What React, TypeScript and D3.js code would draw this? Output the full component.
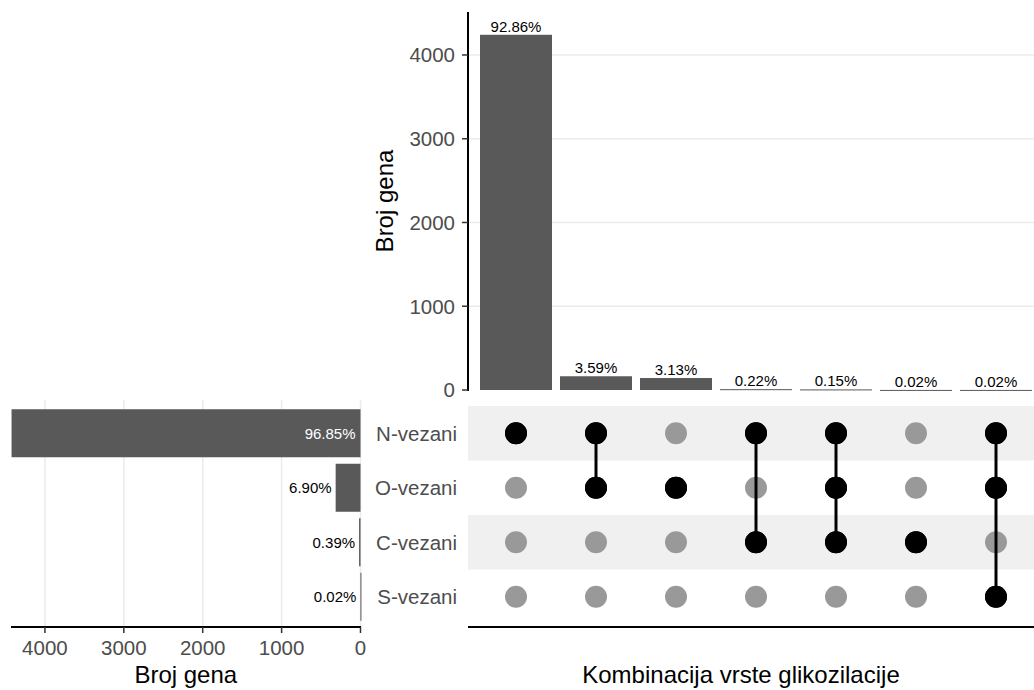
import React from 'react';
import * as d3 from 'd3';

// intersection sizes (genes) per combination, left to right
const combos = ['N', 'N&O', 'O', 'N&C', 'N&O&C', 'C', 'N&O&S'];
const comboCounts = [4241, 164, 143, 10, 7, 1, 1];
const comboPct = ['92.86%', '3.59%', '3.13%', '0.22%', '0.15%', '0.02%', '0.02%'];

// set sizes
const sets = ['N-vezani', 'O-vezani', 'C-vezani', 'S-vezani'];
const setKeys = ['N', 'O', 'C', 'S'];
const setCounts = [4423, 315, 18, 1];
const setPct = ['96.85%', '6.90%', '0.39%', '0.02%'];

const yTicks = [0, 1000, 2000, 3000, 4000];
const xTicks = [4000, 3000, 2000, 1000, 0];

const FONT = '"Liberation Sans", Arial, Helvetica, sans-serif';

export default function App() {
  const width = 1034;
  const height = 690;

  // shared column scale for the bar chart and the matrix
  const xCol = d3.scaleBand<string>().domain(combos).range([476, 1036]).paddingInner(0.1).paddingOuter(0.05);
  const cx = (c: string) => (xCol(c) as number) + xCol.bandwidth() / 2;

  const yTop = d3.scaleLinear().domain([0, 4513]).range([390, 12]);

  // rows for sets
  const yRow = d3.scaleBand<string>().domain(setKeys).range([406, 624]);
  const cy = (k: string) => (yRow(k) as number) + yRow.bandwidth() / 2;

  const xLeft = d3.scaleLinear().domain([0, 4430]).range([360.5, 11]);

  const barH = 48;
  const dotR = 11;

  return (
    <svg width={width} height={height} style={{ position: 'absolute', left: 0, top: 0, background: '#fff' }} fontFamily={FONT}>
      {/* ---- top bar chart ---- */}
      {yTicks.filter(t => t > 0).map(t => (
        <line key={'g' + t} x1={468} x2={width} y1={yTop(t)} y2={yTop(t)} stroke="#ebebeb" strokeWidth={1.5} />
      ))}
      {combos.map((c, i) => (
        <rect key={'b' + c} x={xCol(c)} y={yTop(comboCounts[i])} width={xCol.bandwidth()}
          height={Math.max(yTop(0) - yTop(comboCounts[i]), 1)} fill="#595959" />
      ))}
      {combos.map((c, i) => (
        <text key={'bl' + c} x={cx(c)} y={yTop(comboCounts[i]) - 3} textAnchor="middle" fontSize={15} fill="#000">
          {comboPct[i]}
        </text>
      ))}
      <line x1={468} x2={468} y1={12} y2={391} stroke="#000" strokeWidth={2} />
      {yTicks.map(t => (
        <g key={'yt' + t}>
          <line x1={462} x2={468} y1={yTop(t)} y2={yTop(t)} stroke="#333" strokeWidth={1.5} />
          <text x={455} y={yTop(t)} dy="0.36em" textAnchor="end" fontSize={20.5} fill="#4d4d4d">{t}</text>
        </g>
      ))}
      <text transform={`translate(393,${yTop(0) / 2 + 6}) rotate(-90)`} textAnchor="middle" fontSize={24} fill="#000">
        Broj gena
      </text>

      {/* ---- left set size chart ---- */}
      {xTicks.map(t => (
        <line key={'lg' + t} x1={xLeft(t)} x2={xLeft(t)} y1={400} y2={627} stroke="#ebebeb" strokeWidth={1.5} />
      ))}
      {setKeys.map((k, i) => {
        const x0 = xLeft(setCounts[i]);
        const inside = setCounts[i] > 1000;
        return (
          <g key={'sb' + k}>
            <rect x={x0} y={cy(k) - barH / 2} width={Math.max(xLeft(0) - x0, 1)} height={barH} fill="#595959" />
            <text x={inside ? xLeft(0) - 5 : x0 - 4} y={cy(k)} dy="0.36em" textAnchor="end" fontSize={15}
              fill={inside ? '#fff' : '#000'}>{setPct[i]}</text>
          </g>
        );
      })}
      <line x1={11} x2={361} y1={627} y2={627} stroke="#000" strokeWidth={2} />
      {xTicks.map(t => (
        <g key={'xt' + t}>
          <line x1={xLeft(t)} x2={xLeft(t)} y1={627} y2={633} stroke="#333" strokeWidth={1.5} />
          <text x={xLeft(t)} y={648} dy="0.36em" textAnchor="middle" fontSize={20.5} fill="#4d4d4d">{t}</text>
        </g>
      ))}
      <text x={(xLeft(0) + xLeft(4430)) / 2} y={683} textAnchor="middle" fontSize={24} fill="#000">Broj gena</text>

      {/* set names */}
      {setKeys.map((k, i) => (
        <text key={'sn' + k} x={457} y={cy(k)} dy="0.36em" textAnchor="end" fontSize={20.5} fill="#4d4d4d">{sets[i]}</text>
      ))}

      {/* ---- matrix ---- */}
      {setKeys.map((k, i) => i % 2 === 0 ? (
        <rect key={'band' + k} x={468} y={yRow(k)} width={width - 468} height={yRow.bandwidth()} fill="#f0f0f0" />
      ) : null)}
      {combos.map(c => {
        const members = c.split('&');
        const ys = members.map(m => cy(m));
        return (
          <g key={'m' + c}>
            {setKeys.map(k => (
              <circle key={k} cx={cx(c)} cy={cy(k)} r={dotR} fill={members.includes(k) ? '#000' : '#999999'} />
            ))}
            {members.length > 1 && (
              <line x1={cx(c)} x2={cx(c)} y1={d3.min(ys)} y2={d3.max(ys)} stroke="#000" strokeWidth={3} />
            )}
            {members.map(m => (
              <circle key={'a' + m} cx={cx(c)} cy={cy(m)} r={dotR} fill="#000" />
            ))}
          </g>
        );
      })}
      <line x1={468} x2={width} y1={627} y2={627} stroke="#000" strokeWidth={2} />
      <text x={741} y={683} textAnchor="middle" fontSize={24} fill="#000">Kombinacija vrste glikozilacije</text>
    </svg>
  );
}
